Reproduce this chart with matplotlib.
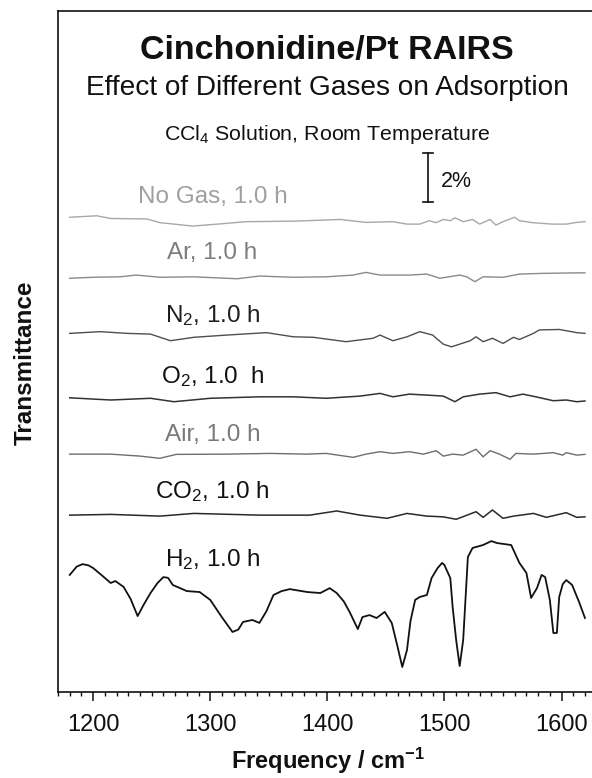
import matplotlib
matplotlib.use("Agg")
import matplotlib.pyplot as plt
from matplotlib.ticker import MultipleLocator

plt.rcParams['font.family'] = ['Liberation Sans', 'DejaVu Sans']
plt.rcParams['mathtext.fontset'] = 'custom'
plt.rcParams['mathtext.rm'] = 'Liberation Sans'
plt.rcParams['mathtext.it'] = 'Liberation Sans:italic'
plt.rcParams['mathtext.bf'] = 'Liberation Sans:bold'

# ---------------- data (wavenumber cm^-1, transmittance %, offset-stacked) -------------
nogas_wn = [1180, 1203, 1215, 1246, 1257, 1285, 1306, 1331, 1371, 1411, 1433, 1456, 1468, 1479,
            1487, 1493, 1499, 1505, 1509, 1516, 1524, 1530, 1539, 1544, 1550, 1560, 1564, 1575,
            1592, 1604, 1613, 1620]
nogas_T = [19.38, 19.44, 19.33, 19.31, 19.16, 19.02, 19.10, 19.20, 19.22, 19.29, 19.17, 19.20,
           19.10, 19.10, 19.24, 19.16, 19.29, 19.24, 19.36, 19.20, 19.29, 19.10, 19.29, 19.06,
           19.20, 19.38, 19.24, 19.16, 19.10, 19.10, 19.17, 19.20]

ar_wn = [1180, 1200, 1223, 1237, 1257, 1285, 1323, 1342, 1371, 1399, 1422, 1433, 1445, 1470,
         1485, 1496, 1513, 1519, 1526, 1533, 1550, 1564, 1584, 1613, 1620]
ar_T = [16.89, 16.93, 16.95, 17.02, 16.93, 16.95, 16.87, 16.98, 16.93, 16.95, 17.02, 17.13,
        17.02, 17.02, 17.06, 16.89, 17.02, 16.95, 16.75, 16.95, 16.93, 17.06, 17.09, 17.11, 17.11]

n2_wn = [1180, 1206, 1229, 1249, 1266, 1286, 1314, 1348, 1371, 1388, 1416, 1439, 1445, 1456,
         1468, 1479, 1490, 1493, 1499, 1506, 1513, 1522, 1527, 1533, 1541, 1550, 1559, 1564,
         1576, 1581, 1598, 1613, 1620]
n2_T = [14.64, 14.71, 14.64, 14.61, 14.34, 14.48, 14.57, 14.67, 14.50, 14.48, 14.30, 14.44,
        14.57, 14.34, 14.50, 14.71, 14.57, 14.44, 14.20, 14.09, 14.20, 14.34, 14.50, 14.30,
        14.44, 14.23, 14.48, 14.39, 14.64, 14.78, 14.80, 14.67, 14.64]

o2_wn = [1180, 1215, 1249, 1269, 1300, 1342, 1371, 1399, 1428, 1445, 1456, 1470, 1485, 1499,
         1509, 1516, 1530, 1544, 1556, 1567, 1578, 1593, 1604, 1613, 1620]
o2_T = [12.01, 11.92, 11.99, 11.85, 11.99, 12.05, 12.05, 11.99, 12.08, 12.19, 12.05, 12.16,
        12.12, 12.08, 11.85, 12.05, 12.16, 12.22, 12.05, 12.16, 12.05, 11.89, 11.92, 11.85, 11.88]

air_wn = [1180, 1215, 1240, 1257, 1271, 1314, 1351, 1382, 1399, 1422, 1433, 1445, 1456, 1470,
          1482, 1493, 1499, 1507, 1516, 1527, 1533, 1539, 1547, 1556, 1561, 1576, 1593, 1601,
          1604, 1613, 1620]
air_T = [9.71, 9.71, 9.63, 9.54, 9.70, 9.71, 9.74, 9.71, 9.74, 9.58, 9.71, 9.81, 9.74, 9.81,
         9.71, 9.85, 9.63, 9.71, 9.67, 9.91, 9.60, 9.85, 9.71, 9.50, 9.74, 9.71, 9.77, 9.67,
         9.77, 9.67, 9.70]

co2_wn = [1180, 1215, 1257, 1286, 1342, 1385, 1408, 1428, 1451, 1468, 1485, 1499, 1510, 1527,
          1533, 1541, 1550, 1559, 1576, 1587, 1604, 1613, 1620]
co2_T = [7.22, 7.25, 7.18, 7.29, 7.22, 7.22, 7.39, 7.22, 7.09, 7.29, 7.18, 7.15, 7.05, 7.36,
         7.13, 7.43, 7.09, 7.18, 7.29, 7.13, 7.32, 7.13, 7.15]

h2_wn = [1180, 1186, 1191, 1196, 1200, 1207, 1215, 1219, 1226, 1232, 1238, 1243, 1249, 1255,
         1260, 1264, 1268, 1280, 1291, 1300, 1310, 1319, 1324, 1328, 1336, 1342, 1348, 1354,
         1361, 1368, 1383, 1394, 1402, 1408, 1414, 1419, 1426, 1430, 1436, 1442, 1449, 1455,
         1460, 1464, 1468, 1471, 1475, 1479, 1485, 1489, 1494, 1498, 1500, 1505, 1507, 1510,
         1513, 1516, 1520, 1524, 1533, 1540, 1545, 1557, 1564, 1570, 1574, 1579, 1583, 1586,
         1590, 1593, 1596, 1598, 1601, 1604, 1609, 1615, 1620]
h2_T = [4.78, 5.12, 5.22, 5.17, 5.06, 4.78, 4.45, 4.53, 4.29, 3.80, 3.10, 3.55, 4.04, 4.45,
        4.69, 4.66, 4.37, 4.12, 4.08, 3.76, 3.05, 2.45, 2.55, 2.86, 2.94, 2.82, 3.30, 3.96,
        4.12, 4.20, 4.08, 4.04, 4.24, 4.04, 3.70, 3.27, 2.57, 3.06, 3.14, 3.02, 3.27, 2.82,
        1.84, 1.02, 1.71, 2.90, 3.76, 3.88, 3.96, 4.65, 5.05, 5.27, 5.18, 4.65, 3.47, 2.12,
        1.06, 2.12, 5.51, 5.88, 6.00, 6.16, 6.08, 6.00, 5.27, 4.86, 3.84, 4.24, 4.78, 4.69,
        3.76, 2.41, 2.41, 3.88, 4.40, 4.57, 4.37, 3.67, 3.02]

series_labels = ["No Gas, 1.0 h", "Ar, 1.0 h", r"N$_\mathregular{2}$, 1.0 h",
                 r"O$_\mathregular{2}$, 1.0  h", "Air, 1.0 h",
                 r"CO$_\mathregular{2}$, 1.0 h", r"H$_\mathregular{2}$, 1.0 h"]
label_baselines = [19.97, 17.66, 15.11, 12.60, 10.24, 7.90, 5.14]
label_x = 1302
line_colors = ["#a8a8a8", "#8a8a8a", "#4e4e4e", "#333333", "#6e6e6e", "#2a2a2a", "#111111"]
text_colors = ["#a0a0a0", "#7d7d7d", "#1e1e1e", "#111111", "#7a7a7a", "#111111", "#111111"]
line_widths = [1.0, 1.0, 1.0, 1.1, 1.0, 1.1, 1.3]

xticks_major = [1200, 1300, 1400, 1500, 1600]
scale_bar = (1486, 20.0, 22.0)   # x, y_low, y_high  (2 %)

# ---------------- figure ----------------
W, H = 592, 778
fig = plt.figure(figsize=(W / 100, H / 100), dpi=100)
ax = fig.add_axes([58 / W, 1 - 692 / H, 1 - 58 / W, (692 - 11) / H])

series = [(nogas_wn, nogas_T), (ar_wn, ar_T), (n2_wn, n2_T), (o2_wn, o2_T),
          (air_wn, air_T), (co2_wn, co2_T), (h2_wn, h2_T)]
for (wn, T), c, lw in zip(series, line_colors, line_widths):
    ax.plot(wn, T, color=c, lw=lw, solid_joinstyle='round')

for lab, yb, tc in zip(series_labels, label_baselines, text_colors):
    ax.text(label_x, yb, lab, ha='center', va='baseline', fontsize=17.5, color=tc)

ax.text(1400, 25.85, "Cinchonidine/Pt RAIRS", ha='center', va='baseline',
        fontsize=24.5, fontweight='bold', color='#111111')
ax.text(1400, 24.37, "Effect of Different Gases on Adsorption", ha='center', va='baseline',
        fontsize=20.2, color='#111111')
ax.text(1400, 22.53, r"CCl$_\mathregular{4}$ Solution, Room Temperature", ha='center',
        va='baseline', fontsize=15.4, color='#111111')

# scale bar
sx, y0, y1 = scale_bar
ax.plot([sx, sx], [y0, y1], color='#111111', lw=1.2)
ax.plot([sx - 4, sx + 4], [y0, y0], color='#111111', lw=1.2)
ax.plot([sx - 4, sx + 4], [y1, y1], color='#111111', lw=1.2)
ax.text(sx + 11, 20.62, "2%", ha='left', va='baseline', fontsize=15.5, color='#111111')

ax.set_xlim(1170, 1626)
ax.set_ylim(0, 27.8)
ax.set_xticks(xticks_major)
ax.xaxis.set_minor_locator(MultipleLocator(10))
ax.tick_params(axis='x', which='major', direction='out', length=6.5, width=1.1,
               labelsize=17, pad=9, colors='#111111')
ax.tick_params(axis='x', which='minor', direction='out', length=3.2, width=1.0,
               colors='#111111')
ax.set_yticks([])
for s in ['left', 'top', 'bottom']:
    ax.spines[s].set_linewidth(1.2)
    ax.spines[s].set_color('#111111')
ax.spines['right'].set_visible(False)

fig.text(328 / W, 1 - 769 / H, r"Frequency / cm$^{\mathbf{-1}}$", ha='center', va='baseline',
         fontsize=17, fontweight='bold', color='#111111')
fig.text(25 / W, 1 - 363 / H, "Transmittance", ha='center', va='center', rotation=90,
         fontsize=17.5, fontweight='bold', color='#111111')

fig.savefig("out.png", dpi=100)
